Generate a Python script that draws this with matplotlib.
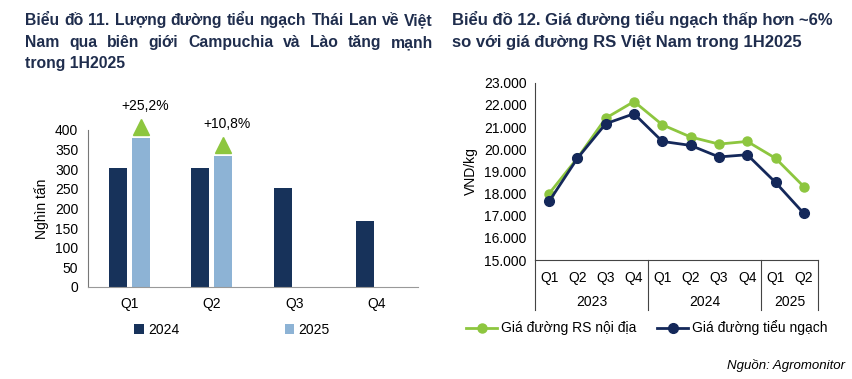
import matplotlib
matplotlib.use("Agg")
import matplotlib.pyplot as plt
import numpy as np

plt.rcParams['font.family'] = ['Liberation Sans', 'DejaVu Sans']

# --- data, chart 11
quarters = ["Q1", "Q2", "Q3", "Q4"]
vol2024 = [303, 302, 252, 167]
vol2025 = [380, 335]
growth = ["+25,2%", "+10,8%"]

# --- data, chart 12
price_q = ["Q1", "Q2", "Q3", "Q4", "Q1", "Q2", "Q3", "Q4", "Q1", "Q2"]
years = ["2023", "2024", "2025"]
year_len = [4, 4, 2]
rs_price = [18000, 19600, 21400, 22150, 21100, 20550, 20230, 20350, 19590, 18310]
tn_price = [17650, 19590, 21150, 21600, 20350, 20170, 19650, 19750, 18500, 17100]

navy = "#17325a"
light = "#8db3d5"
green = "#8dc63f"
line_navy = "#14285a"
title_c = "#1f2d4d"

fig = plt.figure(figsize=(8.53, 3.79), dpi=100)
W, H = 853, 379


def justify(words, x0, x1, y, size):
    r = fig.canvas.get_renderer()
    ts = [fig.text(0, y, w, fontsize=size, fontweight='bold', color=title_c,
                   va='baseline') for w in words]
    ws = [t.get_window_extent(r).width for t in ts]
    gap = max(((x1 - x0) - sum(ws)) / (len(words) - 1), 3)
    x = x0
    for t, w in zip(ts, ws):
        t.set_x(x / W)
        x += w + gap


# titles
TL = 11.3
justify("Biểu đồ 11. Lượng đường tiểu ngạch Thái Lan về Việt".split(), 25, 433, 1 - 25 / H, TL)
justify("Nam qua biên giới Campuchia và Lào tăng mạnh".split(), 25, 433, 1 - 47 / H, TL)
fig.text(25 / W, 1 - 68 / H, "trong 1H2025", fontsize=TL, fontweight='bold',
         color=title_c, va='baseline')
TR = 12
fig.text(452 / W, 1 - 25 / H, "Biểu đồ 12. Giá đường tiểu ngạch thấp hơn ~6%",
         fontsize=TR, fontweight='bold', color=title_c, va='baseline')
fig.text(452 / W, 1 - 47 / H, "so với giá đường RS Việt Nam trong 1H2025",
         fontsize=TR, fontweight='bold', color=title_c, va='baseline')

# ---------- chart 11
ax1 = fig.add_axes([88 / W, 1 - 287 / H, 330 / W, 157 / H])
x = np.arange(len(quarters))
bw = 0.22
ax1.bar(x - 0.14, vol2024, bw, color=navy, label="2024")
ax1.bar(x[:len(vol2025)] + 0.14, vol2025, bw, color=light, label="2025")
ax1.set_xlim(-0.5, 3.5)
ax1.set_ylim(0, 400)
ax1.set_yticks(range(0, 401, 50))
ax1.set_xticks(x)
ax1.set_xticklabels(quarters)
ax1.tick_params(length=0, labelsize=10, pad=7)
for s in ["top", "right"]:
    ax1.spines[s].set_visible(False)
ax1.spines["left"].set_color("#777777")
ax1.spines["bottom"].set_color("#999999")
ax1.set_ylabel("Nghìn tấn", fontsize=10, labelpad=4)
for i, (v, g) in enumerate(zip(vol2025, growth)):
    ax1.plot(i + 0.14, v + 28, marker='^', markersize=11, color=green,
             clip_on=False, linestyle='none')
    ax1.text(i + 0.19, v + 80, g, ha='center', va='center', fontsize=10)
fig.legend(handles=ax1.containers, labels=["2024", "2025"], loc='center',
           bbox_to_anchor=(232 / W, 1 - 330 / H), ncol=2, frameon=False,
           fontsize=10, handlelength=0.7, handleheight=0.7, handletextpad=0.3,
           columnspacing=7.6)

# ---------- chart 12
ax2 = fig.add_axes([535 / W, 1 - 260 / H, 283 / W, 177.3 / H])
xp = np.arange(len(price_q))
ax2.plot(xp, rs_price, color=green, lw=2, marker='o', markersize=6.5,
         label="Giá đường RS nội địa")
ax2.plot(xp, tn_price, color=line_navy, lw=2, marker='o', markersize=7,
         label="Giá đường tiểu ngạch")
ax2.set_xlim(-0.5, len(price_q) - 0.5)
ax2.set_ylim(15000, 23000)
ax2.set_yticks(range(15000, 23001, 1000))
ax2.set_yticklabels([f"{v:,}".replace(",", ".") for v in range(15000, 23001, 1000)])
ax2.set_xticks([])
ax2.tick_params(length=0, labelsize=10, pad=6)
for s in ["top", "right"]:
    ax2.spines[s].set_visible(False)
ax2.spines["left"].set_color("#444444")
ax2.spines["bottom"].set_color("#444444")
ax2.set_ylabel("VND/kg", fontsize=10, labelpad=4)
tr = ax2.get_xaxis_transform()
for i, q in enumerate(price_q):
    ax2.text(i, -0.10, q, transform=tr, ha='center', va='center', fontsize=10)
start = -0.5
for yname, n in zip(years, year_len):
    ax2.plot([start, start], [0, -0.282], transform=tr, color="#444444",
             lw=0.8, clip_on=False)
    ax2.text(start + n / 2, -0.235, yname, transform=tr, ha='center',
             va='center', fontsize=10)
    start += n
ax2.plot([start, start], [0, -0.282], transform=tr, color="#444444",
         lw=0.8, clip_on=False)
fig.legend(handles=ax2.lines[:2], loc='center',
           bbox_to_anchor=(647 / W, 1 - 328 / H), ncol=2, frameon=False,
           fontsize=10, handlelength=2.2, handletextpad=0.3, columnspacing=1.5)

fig.text(845 / W, 1 - 365 / H, "Nguồn: Agromonitor", ha='right', va='center',
         fontsize=9.5, style='italic')

fig.savefig("out.png", dpi=100)
